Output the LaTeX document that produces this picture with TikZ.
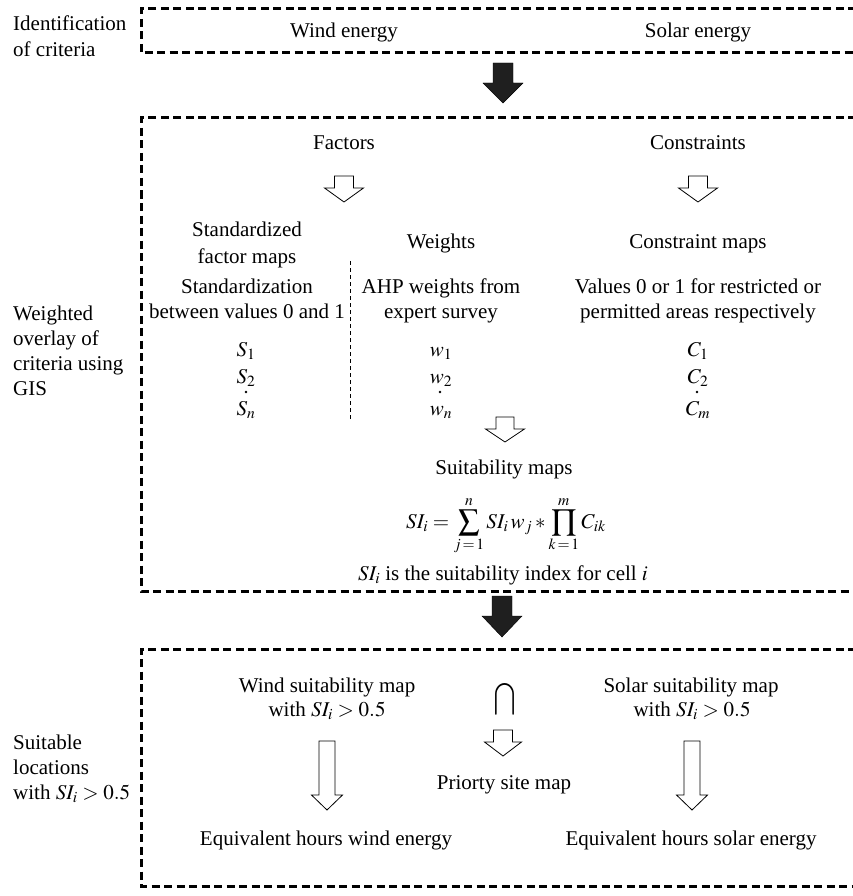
\documentclass[tikz,border=0pt]{standalone}
\usepackage{mathptmx}
\usepackage{fontspec}
\setmainfont{Liberation Serif}
\newcommand\blockarr[7]{%
  \draw[#1] ({#2-#6},#3) -- ({#2+#6},#3) -- ({#2+#6},#4) -- ({#2+#7},#4) -- (#2,#5)
    -- ({#2-#7},#4) -- ({#2-#6},#4) -- cycle;}
\begin{document}
\begin{tikzpicture}[x=1pt,y=-1pt,
  lbl/.style={anchor=base, inner sep=0pt, font=\fontsize{21}{25}\selectfont},
  side/.style={anchor=base west, inner sep=0pt, font=\fontsize{21}{25}\selectfont},
  dotmark/.style={circle, fill=black, inner sep=0pt, minimum size=2.6pt},
  frame/.style={line width=3pt, dash pattern=on 8pt off 4.5pt},
  divider/.style={line width=0.9pt, dash pattern=on 4pt off 3pt},
  openarr/.style={draw=black, fill=white, line width=0.8pt, line join=miter},
  solidarr/.style={fill=black!88},
]
\useasboundingbox (0,0) rectangle (853,896);

% ---------- frames ----------
\draw[frame] (856,9) -- (141,9) -- (141,53) -- (856,53);
\draw[frame] (856,118) -- (141,118) -- (141,591) -- (856,591);
\draw[frame] (856,649) -- (141,649) -- (141,886) -- (856,886);

% ---------- side labels ----------
\node[side] (id1) at (13,31) {Identification};
\node[side] (id2) at (13,57) {of criteria};
\node[side] (wo1) at (13,320) {Weighted};
\node[side] (wo2) at (13,345) {overlay of};
\node[side] (wo3) at (13,370) {criteria using};
\node[side] (wo4) at (13,395) {GIS};
\node[side] (sl1) at (13,749) {Suitable};
\node[side] (sl2) at (13,774) {locations};
\node[side] (sl3) at (13,799) {with $SI_i > 0.5$};

% ---------- box 1 ----------
\node[lbl] (wind) at (344,38) {Wind energy};
\node[lbl] (solar) at (698,38) {Solar energy};
\blockarr{solidarr}{503}{63}{83}{103}{10}{20}

% ---------- box 2 ----------
\node[lbl] (factors) at (344,150) {Factors};
\node[lbl] (constr) at (698,150) {Constraints};
\blockarr{openarr}{344}{176}{188}{202}{9.5}{19.5}
\blockarr{openarr}{698}{176}{188}{202}{9.5}{19.5}

\node[lbl] (std1) at (247,236) {Standardized};
\node[lbl] (std2) at (247,263) {factor maps};
\node[lbl] (wts) at (441,248) {Weights};
\node[lbl] (cmap) at (698,248) {Constraint maps};

\node[lbl] (stdz1) at (247,293) {Standardization};
\node[lbl] (stdz2) at (247,318) {between values 0 and 1};
\node[lbl] (ahp1) at (441,293) {AHP weights from};
\node[lbl] (ahp2) at (441,318) {expert survey};
\node[lbl] (val1) at (698,293) {Values 0 or 1 for restricted or};
\node[lbl] (val2) at (698,318) {permitted areas respectively};

\node[lbl] (s1) at (246,356) {$S_1$};
\node[lbl] (s2) at (246,383) {$S_2$};
\node[dotmark] (sd) at (246,392) {};
\node[lbl] (sn) at (246,415) {$S_n$};
\node[lbl] (w1) at (441,356) {$w_1$};
\node[lbl] (w2) at (441,383) {$w_2$};
\node[dotmark] (wd) at (440,392) {};
\node[lbl] (wn) at (441,415) {$w_n$};
\node[lbl] (c1) at (698,356) {$C_1$};
\node[lbl] (c2) at (698,383) {$C_2$};
\node[dotmark] (cd) at (697,392) {};
\node[lbl] (cm) at (698,415) {$C_m$};

\draw[divider] (350,261) -- (350,421);

\blockarr{openarr}{505}{417}{429}{442}{9}{19.5}
\node[lbl] (suit) at (504,474) {Suitability maps};
\node[anchor=center, inner sep=0pt, font=\fontsize{21}{25}\selectfont] (formula) at (506,526)
  {$\displaystyle SI_i = \sum_{j\,=\,1}^{n} SI_i\, w_j * \prod_{k\,=\,1}^{m} C_{ik}$};
\node[lbl] (sidx) at (503,580) {$SI_i$ is the suitability index for cell $i$};

\blockarr{solidarr}{502}{596}{616}{637}{10}{20}

% ---------- box 3 ----------
\node[lbl] (ws1) at (327,692) {Wind suitability map};
\node[lbl] (ws2) at (327,716) {with $SI_i > 0.5$};
\node[lbl] (ss1) at (691,692) {Solar suitability map};
\node[lbl] (ss2) at (692,716) {with $SI_i > 0.5$};
\node[anchor=center, inner sep=0pt, font=\fontsize{21}{25}\selectfont] (cap) at (505,699)
  {\scalebox{1}[1.2]{$\displaystyle\bigcap$}};

\blockarr{openarr}{327}{741}{795}{810}{8}{15.5}
\blockarr{openarr}{692}{741}{795}{810}{8}{15.5}
\blockarr{openarr}{503}{730}{742}{756}{9.5}{18.5}

\node[lbl] (prio) at (504,789) {Priorty site map};
\node[lbl] (eqw) at (326,845) {Equivalent hours wind energy};
\node[lbl] (eqs) at (691,845) {Equivalent hours solar energy};
\end{tikzpicture}
\end{document}
